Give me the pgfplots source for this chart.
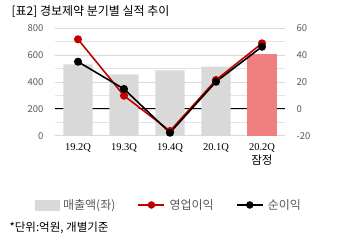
\documentclass[border=0pt]{standalone}
\usepackage{fontspec}
\setmainfont{Noto Sans CJK KR}
\newfontfamily\kr{Noto Sans CJK KR}
\newfontfamily\serifx{Liberation Serif}
\usepackage{pgfplots}
\pgfplotsset{compat=1.18}
\definecolor{tickgray}{HTML}{595959}
\definecolor{bargray}{HTML}{D9D9D9}
\definecolor{barred}{HTML}{F08080}
\definecolor{linered}{HTML}{C00000}
\definecolor{gridgray}{HTML}{D9D9D9}
\begin{document}
\begin{tikzpicture}[x=1bp,y=1bp]
\useasboundingbox (0,0) rectangle (340,240);
\node[anchor=west,font=\fontsize{12bp}{14bp}\selectfont] at (8,228) {[표2] 경보제약 분기별 실적 추이};
\node[anchor=west,font=\fontsize{11.5bp}{13bp}\selectfont] at (6,12) {*단위:억원, 개별기준};
\begin{axis}[
  at={(55bp,104.3bp)}, anchor=south west,
  width=230bp, height=107.4bp, scale only axis,
  xmin=-0.5, xmax=4.5, ymin=0, ymax=800,
  axis line style={draw=none},
  major tick length=0pt, minor tick length=0pt,
  xtick={0,1,2,3,4},
  xticklabels={19.2Q,19.3Q,19.4Q,20.1Q,{20.2Q\\[2bp]{\kr\fontsize{11.5bp}{12bp}\selectfont 잠정}}},
  xticklabel style={font=\serifx\fontsize{10.5bp}{12bp}\selectfont, align=center, text=black, anchor=north, yshift=-4bp},
  ytick={0,200,...,800},
  minor ytick={100,300,500,700},
  ymajorgrids, yminorgrids,
  grid style={draw=gridgray, line width=0.6pt},
  minor grid style={draw=gridgray!70, line width=0.6pt},
  extra y ticks={200}, extra y tick labels={},
  extra y tick style={grid style={draw=black, line width=0.8pt}},
  yticklabel style={font=\fontsize{9.5bp}{11bp}\selectfont, text=tickgray, xshift=-8bp},
  /pgf/number format/assume math mode=true,
  clip=false,
]
\addplot[ybar, bar width=0.64, bar shift=0pt, fill=bargray, draw=none] coordinates {(0,532) (1,457) (2,487) (3,514)};
\addplot[ybar, bar width=0.64, bar shift=0pt, fill=barred, draw=none] coordinates {(4,608)};
\end{axis}
\begin{axis}[
  at={(55bp,104.3bp)}, anchor=south west,
  width=230bp, height=107.4bp, scale only axis,
  xmin=-0.5, xmax=4.5, ymin=-20, ymax=60,
  axis line style={draw=none},
  major tick length=0pt,
  axis y line*=right,
  hide x axis,
  ytick={-20,0,...,60},
  yticklabel style={font=\fontsize{9.5bp}{11bp}\selectfont, text=tickgray, xshift=8bp},
  /pgf/number format/assume math mode=true,
  clip=false,
  legend style={at={(0.495,-0.645)}, anchor=center, draw=none, fill=none,
    legend columns=3, font=\fontsize{12bp}{14bp}\selectfont, text=tickgray,
    /tikz/every even column/.append style={column sep=20bp},
    /tikz/every odd column/.append style={column sep=2bp}},
  legend cell align=left,
]
\addlegendimage{legend image code/.code={\fill[bargray] (0bp,-5bp) rectangle (24bp,5bp);}}
\addlegendentry{매출액(좌)}
\addlegendimage{legend image code/.code={\draw[linered, line width=2.2pt] (0bp,0bp) -- (26bp,0bp); \fill[linered] (13bp,0bp) circle (3.5bp);}}
\addlegendentry{영업이익}
\addlegendimage{legend image code/.code={\draw[black, line width=2.2pt] (0bp,0bp) -- (26bp,0bp); \fill[black] (13bp,0bp) circle (3.5bp);}}
\addlegendentry{순이익}
\addplot[forget plot, color=linered, line width=1.6pt, mark=*, mark size=3.2bp, mark options={fill=linered, draw=linered}] coordinates {(0,51.8) (1,9.8) (2,-16.5) (3,21.5) (4,48.8)};
\addplot[forget plot, color=black, line width=1.6pt, mark=*, mark size=3.2bp, mark options={fill=black, draw=black}] coordinates {(0,35.1) (1,14.8) (2,-17.8) (3,20.2) (4,46.3)};
\end{axis}
\end{tikzpicture}
\end{document}
